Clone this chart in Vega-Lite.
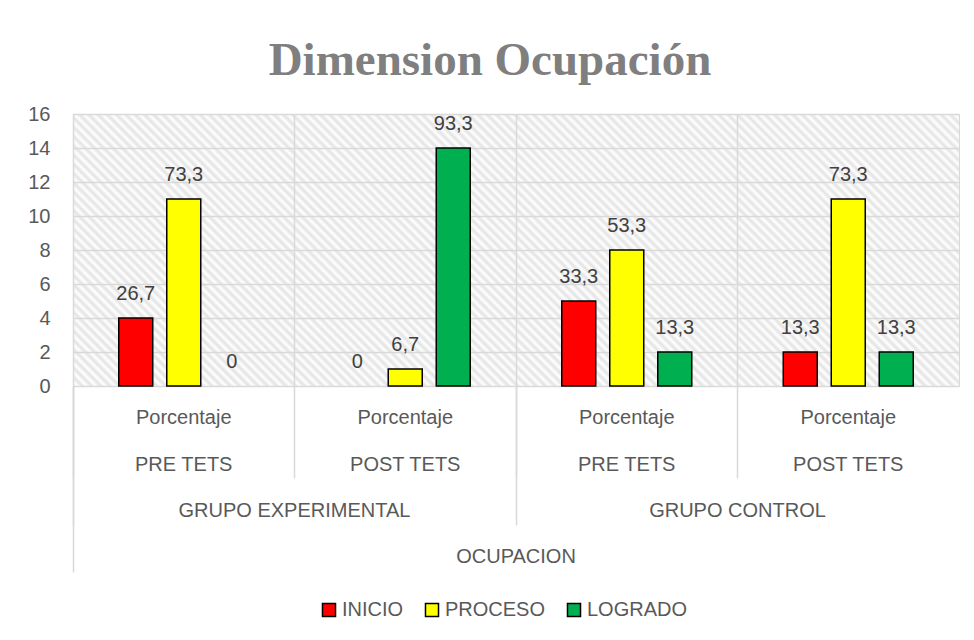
{
  "$schema": "https://vega.github.io/schema/vega-lite/v6.json",
  "width": 886,
  "height": 272,
  "autosize": {"type": "none"},
  "padding": {"left": 73, "top": 114, "right": 15, "bottom": 254},
  "background": "white",
  "title": {
    "text": "Dimension Ocupación",
    "font": "Liberation Serif",
    "fontSize": 47,
    "fontWeight": "bold",
    "color": "#7f7f7f",
    "anchor": "middle",
    "frame": "group",
    "dx": -26,
    "baseline": "alphabetic",
    "offset": -18
  },
  "data": {
    "values": [
      {"cat": "E-PRE", "grupo": "GRUPO EXPERIMENTAL", "dim": "OCUPACION", "nivel": "INICIO", "n": 4, "pct": "26,7"},
      {"cat": "E-PRE", "grupo": "GRUPO EXPERIMENTAL", "dim": "OCUPACION", "nivel": "PROCESO", "n": 11, "pct": "73,3"},
      {"cat": "E-PRE", "grupo": "GRUPO EXPERIMENTAL", "dim": "OCUPACION", "nivel": "LOGRADO", "n": 0, "pct": "0"},
      {"cat": "E-POST", "grupo": "GRUPO EXPERIMENTAL", "dim": "OCUPACION", "nivel": "INICIO", "n": 0, "pct": "0"},
      {"cat": "E-POST", "grupo": "GRUPO EXPERIMENTAL", "dim": "OCUPACION", "nivel": "PROCESO", "n": 1, "pct": "6,7"},
      {"cat": "E-POST", "grupo": "GRUPO EXPERIMENTAL", "dim": "OCUPACION", "nivel": "LOGRADO", "n": 14, "pct": "93,3"},
      {"cat": "C-PRE", "grupo": "GRUPO CONTROL", "dim": "OCUPACION", "nivel": "INICIO", "n": 5, "pct": "33,3"},
      {"cat": "C-PRE", "grupo": "GRUPO CONTROL", "dim": "OCUPACION", "nivel": "PROCESO", "n": 8, "pct": "53,3"},
      {"cat": "C-PRE", "grupo": "GRUPO CONTROL", "dim": "OCUPACION", "nivel": "LOGRADO", "n": 2, "pct": "13,3"},
      {"cat": "C-POST", "grupo": "GRUPO CONTROL", "dim": "OCUPACION", "nivel": "INICIO", "n": 2, "pct": "13,3"},
      {"cat": "C-POST", "grupo": "GRUPO CONTROL", "dim": "OCUPACION", "nivel": "PROCESO", "n": 11, "pct": "73,3"},
      {"cat": "C-POST", "grupo": "GRUPO CONTROL", "dim": "OCUPACION", "nivel": "LOGRADO", "n": 2, "pct": "13,3"}
    ]
  },
  "config": {
    "view": {
      "stroke": "#d9d9d9",
      "fill": {
        "gradient": "linear",
        "x1": 0, "y1": 1, "x2": 1.1945, "y2": 0.6333,
        "stops": [
          {"offset": 0, "color": "#e3e3e3"}, {"offset": 0.004, "color": "#fff"}, {"offset": 0.008, "color": "#e3e3e3"}, {"offset": 0.012, "color": "#fff"}, {"offset": 0.016, "color": "#e3e3e3"}, {"offset": 0.02, "color": "#fff"}, {"offset": 0.024, "color": "#e3e3e3"}, {"offset": 0.028, "color": "#fff"}, {"offset": 0.032, "color": "#e3e3e3"}, {"offset": 0.036, "color": "#fff"},
          {"offset": 0.04, "color": "#e3e3e3"}, {"offset": 0.044, "color": "#fff"}, {"offset": 0.048, "color": "#e3e3e3"}, {"offset": 0.052, "color": "#fff"}, {"offset": 0.056, "color": "#e3e3e3"}, {"offset": 0.06, "color": "#fff"}, {"offset": 0.064, "color": "#e3e3e3"}, {"offset": 0.068, "color": "#fff"}, {"offset": 0.072, "color": "#e3e3e3"}, {"offset": 0.076, "color": "#fff"},
          {"offset": 0.08, "color": "#e3e3e3"}, {"offset": 0.084, "color": "#fff"}, {"offset": 0.088, "color": "#e3e3e3"}, {"offset": 0.092, "color": "#fff"}, {"offset": 0.096, "color": "#e3e3e3"}, {"offset": 0.1, "color": "#fff"}, {"offset": 0.104, "color": "#e3e3e3"}, {"offset": 0.108, "color": "#fff"}, {"offset": 0.112, "color": "#e3e3e3"}, {"offset": 0.116, "color": "#fff"},
          {"offset": 0.12, "color": "#e3e3e3"}, {"offset": 0.124, "color": "#fff"}, {"offset": 0.128, "color": "#e3e3e3"}, {"offset": 0.132, "color": "#fff"}, {"offset": 0.136, "color": "#e3e3e3"}, {"offset": 0.14, "color": "#fff"}, {"offset": 0.144, "color": "#e3e3e3"}, {"offset": 0.148, "color": "#fff"}, {"offset": 0.152, "color": "#e3e3e3"}, {"offset": 0.156, "color": "#fff"},
          {"offset": 0.16, "color": "#e3e3e3"}, {"offset": 0.164, "color": "#fff"}, {"offset": 0.168, "color": "#e3e3e3"}, {"offset": 0.172, "color": "#fff"}, {"offset": 0.176, "color": "#e3e3e3"}, {"offset": 0.18, "color": "#fff"}, {"offset": 0.184, "color": "#e3e3e3"}, {"offset": 0.188, "color": "#fff"}, {"offset": 0.192, "color": "#e3e3e3"}, {"offset": 0.196, "color": "#fff"},
          {"offset": 0.2, "color": "#e3e3e3"}, {"offset": 0.204, "color": "#fff"}, {"offset": 0.208, "color": "#e3e3e3"}, {"offset": 0.212, "color": "#fff"}, {"offset": 0.216, "color": "#e3e3e3"}, {"offset": 0.22, "color": "#fff"}, {"offset": 0.224, "color": "#e3e3e3"}, {"offset": 0.228, "color": "#fff"}, {"offset": 0.232, "color": "#e3e3e3"}, {"offset": 0.236, "color": "#fff"},
          {"offset": 0.24, "color": "#e3e3e3"}, {"offset": 0.244, "color": "#fff"}, {"offset": 0.248, "color": "#e3e3e3"}, {"offset": 0.252, "color": "#fff"}, {"offset": 0.256, "color": "#e3e3e3"}, {"offset": 0.26, "color": "#fff"}, {"offset": 0.264, "color": "#e3e3e3"}, {"offset": 0.268, "color": "#fff"}, {"offset": 0.272, "color": "#e3e3e3"}, {"offset": 0.276, "color": "#fff"},
          {"offset": 0.28, "color": "#e3e3e3"}, {"offset": 0.284, "color": "#fff"}, {"offset": 0.288, "color": "#e3e3e3"}, {"offset": 0.292, "color": "#fff"}, {"offset": 0.296, "color": "#e3e3e3"}, {"offset": 0.3, "color": "#fff"}, {"offset": 0.304, "color": "#e3e3e3"}, {"offset": 0.308, "color": "#fff"}, {"offset": 0.312, "color": "#e3e3e3"}, {"offset": 0.316, "color": "#fff"},
          {"offset": 0.32, "color": "#e3e3e3"}, {"offset": 0.324, "color": "#fff"}, {"offset": 0.328, "color": "#e3e3e3"}, {"offset": 0.332, "color": "#fff"}, {"offset": 0.336, "color": "#e3e3e3"}, {"offset": 0.34, "color": "#fff"}, {"offset": 0.344, "color": "#e3e3e3"}, {"offset": 0.348, "color": "#fff"}, {"offset": 0.352, "color": "#e3e3e3"}, {"offset": 0.356, "color": "#fff"},
          {"offset": 0.36, "color": "#e3e3e3"}, {"offset": 0.364, "color": "#fff"}, {"offset": 0.368, "color": "#e3e3e3"}, {"offset": 0.372, "color": "#fff"}, {"offset": 0.376, "color": "#e3e3e3"}, {"offset": 0.38, "color": "#fff"}, {"offset": 0.384, "color": "#e3e3e3"}, {"offset": 0.388, "color": "#fff"}, {"offset": 0.392, "color": "#e3e3e3"}, {"offset": 0.396, "color": "#fff"},
          {"offset": 0.4, "color": "#e3e3e3"}, {"offset": 0.404, "color": "#fff"}, {"offset": 0.408, "color": "#e3e3e3"}, {"offset": 0.412, "color": "#fff"}, {"offset": 0.416, "color": "#e3e3e3"}, {"offset": 0.42, "color": "#fff"}, {"offset": 0.424, "color": "#e3e3e3"}, {"offset": 0.428, "color": "#fff"}, {"offset": 0.432, "color": "#e3e3e3"}, {"offset": 0.436, "color": "#fff"},
          {"offset": 0.44, "color": "#e3e3e3"}, {"offset": 0.444, "color": "#fff"}, {"offset": 0.448, "color": "#e3e3e3"}, {"offset": 0.452, "color": "#fff"}, {"offset": 0.456, "color": "#e3e3e3"}, {"offset": 0.46, "color": "#fff"}, {"offset": 0.464, "color": "#e3e3e3"}, {"offset": 0.468, "color": "#fff"}, {"offset": 0.472, "color": "#e3e3e3"}, {"offset": 0.476, "color": "#fff"},
          {"offset": 0.48, "color": "#e3e3e3"}, {"offset": 0.484, "color": "#fff"}, {"offset": 0.488, "color": "#e3e3e3"}, {"offset": 0.492, "color": "#fff"}, {"offset": 0.496, "color": "#e3e3e3"}, {"offset": 0.5, "color": "#fff"}, {"offset": 0.504, "color": "#e3e3e3"}, {"offset": 0.508, "color": "#fff"}, {"offset": 0.512, "color": "#e3e3e3"}, {"offset": 0.516, "color": "#fff"},
          {"offset": 0.52, "color": "#e3e3e3"}, {"offset": 0.524, "color": "#fff"}, {"offset": 0.528, "color": "#e3e3e3"}, {"offset": 0.532, "color": "#fff"}, {"offset": 0.536, "color": "#e3e3e3"}, {"offset": 0.54, "color": "#fff"}, {"offset": 0.544, "color": "#e3e3e3"}, {"offset": 0.548, "color": "#fff"}, {"offset": 0.552, "color": "#e3e3e3"}, {"offset": 0.556, "color": "#fff"},
          {"offset": 0.56, "color": "#e3e3e3"}, {"offset": 0.564, "color": "#fff"}, {"offset": 0.568, "color": "#e3e3e3"}, {"offset": 0.572, "color": "#fff"}, {"offset": 0.576, "color": "#e3e3e3"}, {"offset": 0.58, "color": "#fff"}, {"offset": 0.584, "color": "#e3e3e3"}, {"offset": 0.588, "color": "#fff"}, {"offset": 0.592, "color": "#e3e3e3"}, {"offset": 0.596, "color": "#fff"},
          {"offset": 0.6, "color": "#e3e3e3"}, {"offset": 0.604, "color": "#fff"}, {"offset": 0.608, "color": "#e3e3e3"}, {"offset": 0.612, "color": "#fff"}, {"offset": 0.616, "color": "#e3e3e3"}, {"offset": 0.62, "color": "#fff"}, {"offset": 0.624, "color": "#e3e3e3"}, {"offset": 0.628, "color": "#fff"}, {"offset": 0.632, "color": "#e3e3e3"}, {"offset": 0.636, "color": "#fff"},
          {"offset": 0.64, "color": "#e3e3e3"}, {"offset": 0.644, "color": "#fff"}, {"offset": 0.648, "color": "#e3e3e3"}, {"offset": 0.652, "color": "#fff"}, {"offset": 0.656, "color": "#e3e3e3"}, {"offset": 0.66, "color": "#fff"}, {"offset": 0.664, "color": "#e3e3e3"}, {"offset": 0.668, "color": "#fff"}, {"offset": 0.672, "color": "#e3e3e3"}, {"offset": 0.676, "color": "#fff"},
          {"offset": 0.68, "color": "#e3e3e3"}, {"offset": 0.684, "color": "#fff"}, {"offset": 0.688, "color": "#e3e3e3"}, {"offset": 0.692, "color": "#fff"}, {"offset": 0.696, "color": "#e3e3e3"}, {"offset": 0.7, "color": "#fff"}, {"offset": 0.704, "color": "#e3e3e3"}, {"offset": 0.708, "color": "#fff"}, {"offset": 0.712, "color": "#e3e3e3"}, {"offset": 0.716, "color": "#fff"},
          {"offset": 0.72, "color": "#e3e3e3"}, {"offset": 0.724, "color": "#fff"}, {"offset": 0.728, "color": "#e3e3e3"}, {"offset": 0.732, "color": "#fff"}, {"offset": 0.736, "color": "#e3e3e3"}, {"offset": 0.74, "color": "#fff"}, {"offset": 0.744, "color": "#e3e3e3"}, {"offset": 0.748, "color": "#fff"}, {"offset": 0.752, "color": "#e3e3e3"}, {"offset": 0.756, "color": "#fff"},
          {"offset": 0.76, "color": "#e3e3e3"}, {"offset": 0.764, "color": "#fff"}, {"offset": 0.768, "color": "#e3e3e3"}, {"offset": 0.772, "color": "#fff"}, {"offset": 0.776, "color": "#e3e3e3"}, {"offset": 0.78, "color": "#fff"}, {"offset": 0.784, "color": "#e3e3e3"}, {"offset": 0.788, "color": "#fff"}, {"offset": 0.792, "color": "#e3e3e3"}, {"offset": 0.796, "color": "#fff"},
          {"offset": 0.8, "color": "#e3e3e3"}, {"offset": 0.804, "color": "#fff"}, {"offset": 0.808, "color": "#e3e3e3"}, {"offset": 0.812, "color": "#fff"}, {"offset": 0.816, "color": "#e3e3e3"}, {"offset": 0.82, "color": "#fff"}, {"offset": 0.824, "color": "#e3e3e3"}, {"offset": 0.828, "color": "#fff"}, {"offset": 0.832, "color": "#e3e3e3"}, {"offset": 0.836, "color": "#fff"},
          {"offset": 0.84, "color": "#e3e3e3"}, {"offset": 0.844, "color": "#fff"}, {"offset": 0.848, "color": "#e3e3e3"}, {"offset": 0.852, "color": "#fff"}, {"offset": 0.856, "color": "#e3e3e3"}, {"offset": 0.86, "color": "#fff"}, {"offset": 0.864, "color": "#e3e3e3"}, {"offset": 0.868, "color": "#fff"}, {"offset": 0.872, "color": "#e3e3e3"}, {"offset": 0.876, "color": "#fff"},
          {"offset": 0.88, "color": "#e3e3e3"}, {"offset": 0.884, "color": "#fff"}, {"offset": 0.888, "color": "#e3e3e3"}, {"offset": 0.892, "color": "#fff"}, {"offset": 0.896, "color": "#e3e3e3"}, {"offset": 0.9, "color": "#fff"}, {"offset": 0.904, "color": "#e3e3e3"}, {"offset": 0.908, "color": "#fff"}, {"offset": 0.912, "color": "#e3e3e3"}, {"offset": 0.916, "color": "#fff"},
          {"offset": 0.92, "color": "#e3e3e3"}, {"offset": 0.924, "color": "#fff"}, {"offset": 0.928, "color": "#e3e3e3"}, {"offset": 0.932, "color": "#fff"}, {"offset": 0.936, "color": "#e3e3e3"}, {"offset": 0.94, "color": "#fff"}, {"offset": 0.944, "color": "#e3e3e3"}, {"offset": 0.948, "color": "#fff"}, {"offset": 0.952, "color": "#e3e3e3"}, {"offset": 0.956, "color": "#fff"},
          {"offset": 0.96, "color": "#e3e3e3"}, {"offset": 0.964, "color": "#fff"}, {"offset": 0.968, "color": "#e3e3e3"}, {"offset": 0.972, "color": "#fff"}, {"offset": 0.976, "color": "#e3e3e3"}, {"offset": 0.98, "color": "#fff"}, {"offset": 0.984, "color": "#e3e3e3"}, {"offset": 0.988, "color": "#fff"}, {"offset": 0.992, "color": "#e3e3e3"}, {"offset": 0.996, "color": "#fff"},
          {"offset": 1, "color": "#e3e3e3"}
        ]
      }
    },
    "axis": {
      "labelFont": "Liberation Sans",
      "labelFontSize": 20,
      "labelColor": "#595959",
      "labelOverlap": false,
      "labelFlush": false,
      "labelLimit": 500,
      "gridColor": "#d9d9d9",
      "gridWidth": 1.5,
      "tickColor": "#d9d9d9",
      "tickWidth": 1.5,
      "domain": false
    },
    "axisY": {
      "values": [0, 2, 4, 6, 8, 10, 12, 14, 16],
      "ticks": false,
      "grid": true,
      "labelPadding": 23,
      "title": null
    },
    "legend": {
      "labelFont": "Liberation Sans",
      "labelFontSize": 20,
      "labelColor": "#595959"
    }
  },
  "layer": [
    {
      "layer": [
        {
          "mark": {"type": "bar", "stroke": "black", "strokeWidth": 1.5},
          "encoding": {
            "x": {
              "field": "cat", "type": "nominal",
              "sort": ["E-PRE", "E-POST", "C-PRE", "C-POST"],
              "scale": {"paddingInner": 0, "paddingOuter": 0},
              "axis": {
                "title": null,
                "orient": "bottom",
                "grid": true,
                "bandPosition": 0,
                "ticks": true,
                "tickSize": 92,
                "labelPadding": -71,
                "labelAngle": 0,
                "labelBaseline": "top",
                "labelLineHeight": 47,
                "labelExpr": "['Porcentaje', test(/PRE/, datum.value) ? 'PRE TETS' : 'POST TETS']"
              }
            },
            "xOffset": {
              "field": "nivel", "type": "nominal",
              "sort": ["INICIO", "PROCESO", "LOGRADO"],
              "scale": {"paddingInner": 0.2917, "paddingOuter": 0.953}
            },
            "y": {
              "field": "n", "type": "quantitative",
              "scale": {"domain": [0, 16], "nice": false},
              "axis": {"title": null}
            },
            "strokeOpacity": {"condition": {"test": "datum.n == 0", "value": 0}, "value": 1},
            "color": {
              "field": "nivel", "type": "nominal",
              "sort": ["INICIO", "PROCESO", "LOGRADO"],
              "scale": {"domain": ["INICIO", "PROCESO", "LOGRADO"], "range": ["#ff0000", "#ffff00", "#00b050"]},
              "legend": {
                "title": null,
                "orient": "none",
                "direction": "horizontal",
                "legendX": 246,
                "legendY": 486,
                "symbolType": "square",
                "symbolSize": 170,
                "symbolStrokeColor": "black",
                "symbolStrokeWidth": 1.5,
                "symbolOpacity": 1,
                "labelOffset": 3,
                "columnPadding": 18
              }
            }
          }
        },
        {
          "mark": {"type": "text", "baseline": "alphabetic", "dy": -18, "font": "Liberation Sans", "fontSize": 20, "color": "#404040"},
          "encoding": {
            "x": {"field": "cat", "type": "nominal", "sort": ["E-PRE", "E-POST", "C-PRE", "C-POST"]},
            "xOffset": {"field": "nivel", "type": "nominal", "sort": ["INICIO", "PROCESO", "LOGRADO"]},
            "y": {"field": "n", "type": "quantitative", "axis": {"title": null}},
            "text": {"field": "pct"}
          }
        }
      ]
    },
    {
      "mark": {"type": "point", "opacity": 0},
      "encoding": {
        "x": {
          "field": "grupo", "type": "nominal",
          "sort": ["GRUPO EXPERIMENTAL", "GRUPO CONTROL"],
          "scale": {"type": "band", "paddingInner": 0, "paddingOuter": 0},
          "axis": {
            "title": null,
            "orient": "bottom",
            "grid": false,
            "bandPosition": 0,
            "tickSize": 139,
            "labelPadding": -25,
            "labelAngle": 0,
            "labelBaseline": "top"
          }
        },
        "y": {"field": "n", "type": "quantitative", "axis": {"title": null}}
      }
    },
    {
      "mark": {"type": "point", "opacity": 0},
      "encoding": {
        "x": {
          "field": "dim", "type": "nominal",
          "scale": {"type": "band", "paddingInner": 0, "paddingOuter": 0},
          "axis": {
            "title": null,
            "orient": "bottom",
            "grid": false,
            "bandPosition": 0,
            "tickSize": 186,
            "labelPadding": -26,
            "labelAngle": 0,
            "labelBaseline": "top"
          }
        },
        "y": {"field": "n", "type": "quantitative", "axis": {"title": null}}
      }
    }
  ],
  "resolve": {"scale": {"x": "independent"}, "axis": {"x": "independent"}}
}
